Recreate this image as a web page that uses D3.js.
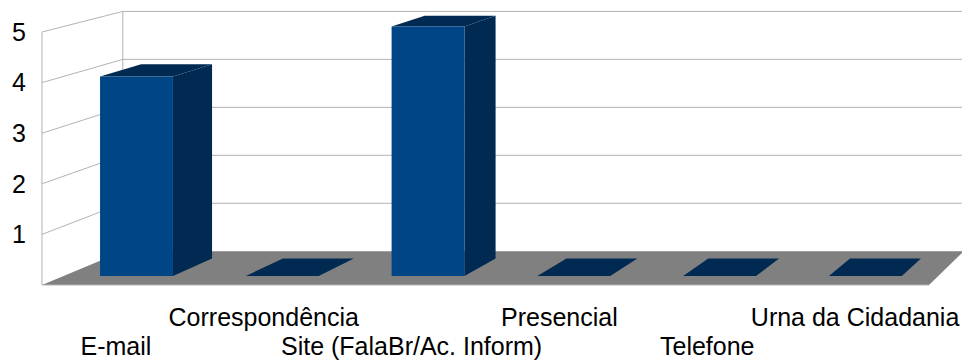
<!DOCTYPE html>
<html>
<head>
<meta charset="utf-8">
<script src="https://cdn.jsdelivr.net/npm/d3@7/dist/d3.min.js"></script>
<style>
  html, body { margin: 0; padding: 0; background: #fff; }
  svg { display: block; font-family: "Liberation Sans", Arial, sans-serif; }
</style>
</head>
<body>
<svg id="chart" width="962" height="361"></svg>
<script>
// Atendimentos por canal
const categories = ["E-mail", "Correspondência", "Site (FalaBr/Ac. Inform)", "Presencial", "Telefone", "Urna da Cidadania"];
const values = [4, 0, 5, 0, 0, 0];
const yTicks = [1, 2, 3, 4, 5];

const W = 962, H = 361;
const svg = d3.select("#chart");

// front-plane scales
const x = d3.scaleBand().domain(categories).range([42, 929]).paddingInner(0.5).paddingOuter(0.25);
const y = d3.scaleLinear().domain([0, 5]).range([285, 32]);

// simple perspective: points recede toward a vanishing point as depth grows
const VP = [1596, -364];
const DEPTH = 0.052;           // depth of the whole floor / walls
const BAR_FRONT = 0.0139, BAR_BACK = 0.041;
function proj(X, Y, d) { return [X + d * (VP[0] - X), Y + d * (VP[1] - Y)]; }
const poly = pts => "M" + pts.map(p => p.join(",")).join("L") + "Z";

const x0 = x.range()[0], x1 = x.range()[1];
const yMin = y(0), yMax = y(5);

// floor
svg.append("path")
  .attr("d", poly([proj(x0, yMin, 0), proj(x1, yMin, 0), proj(x1, yMin, DEPTH), proj(x0, yMin, DEPTH)]))
  .attr("fill", "#808080");
svg.append("line")
  .attr("x1", x0).attr("y1", yMin).attr("x2", x1).attr("y2", yMin)
  .attr("stroke", "#b3b3b3").attr("stroke-width", 1);

// left wall outline and grid
const wallColor = "#b3b3b3";
svg.append("line")
  .attr("x1", x0).attr("y1", yMax).attr("x2", x0).attr("y2", yMin)
  .attr("stroke", wallColor).attr("stroke-width", 1);
const bl0 = proj(x0, yMin, DEPTH), bl1 = proj(x0, yMax, DEPTH);
svg.append("line")
  .attr("x1", bl1[0]).attr("y1", bl1[1]).attr("x2", bl0[0]).attr("y2", bl0[1])
  .attr("stroke", wallColor).attr("stroke-width", 1);

const grid = svg.append("g").attr("fill", "none").attr("stroke", wallColor).attr("stroke-width", 1);
yTicks.forEach(v => {
  const f = [x0, y(v)];
  const b = proj(x0, y(v), DEPTH);
  grid.append("path").attr("d", `M${f[0]},${f[1]}L${b[0]},${b[1]}L${W + 5},${b[1]}`);
});

// bars
const bars = svg.append("g");
categories.forEach((c, i) => {
  const L = x(c), R = x(c) + x.bandwidth();
  const T = y(values[i]), B = y(0);
  const fLT = proj(L, T, BAR_FRONT), fRT = proj(R, T, BAR_FRONT);
  const fLB = proj(L, B, BAR_FRONT), fRB = proj(R, B, BAR_FRONT);
  const bLT = proj(L, T, BAR_BACK), bRT = proj(R, T, BAR_BACK), bRB = proj(R, B, BAR_BACK);
  const g = bars.append("g");
  g.append("path").attr("d", poly([fRT, bRT, bRB, fRB])).attr("fill", "#002a52");
  g.append("path").attr("d", poly([fLT, fRT, bRT, bLT])).attr("fill", "#002a52");
  if (values[i] > 0) {
    g.append("path").attr("d", poly([fLT, fRT, fRB, fLB])).attr("fill", "#004586");
  }
});

// value axis labels
svg.append("g")
  .selectAll("text").data(yTicks).join("text")
  .attr("x", 26).attr("y", d => y(d)).attr("dy", "0.35em")
  .attr("text-anchor", "end").attr("font-size", 25).attr("fill", "#000")
  .text(d => d);

// category labels, staggered on two rows
svg.append("g")
  .selectAll("text").data(categories).join("text")
  .attr("x", d => x(d) + x.bandwidth() / 2)
  .attr("y", (d, i) => i % 2 === 0 ? 355 : 326)
  .attr("text-anchor", "middle").attr("font-size", 25).attr("fill", "#000")
  .text(d => d);
</script>
</body>
</html>
